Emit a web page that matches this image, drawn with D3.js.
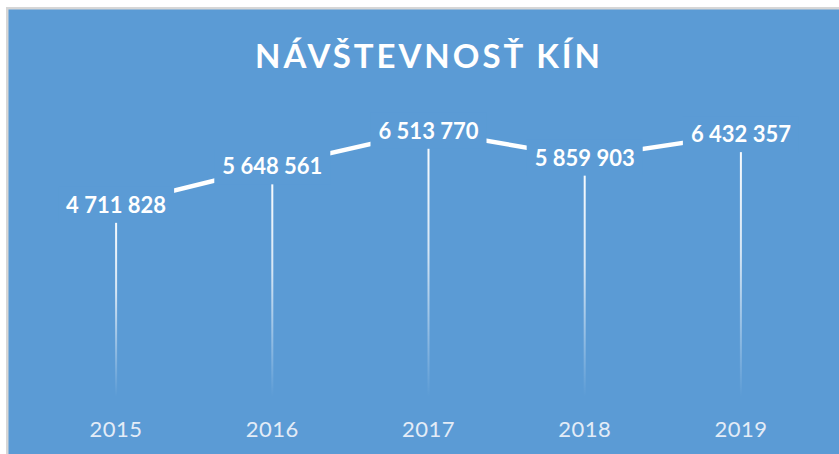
<!DOCTYPE html>
<html>
<head>
<meta charset="utf-8">
<script src="https://cdn.jsdelivr.net/npm/d3@7"></script>
<style>
  html, body { margin: 0; padding: 0; background: #ffffff; }
  svg { display: block; }
</style>
</head>
<body>
<svg id="chart" width="839" height="454"></svg>
<script>
const years = ["2015", "2016", "2017", "2018", "2019"];
const visitors = [4711828, 5648561, 6513770, 5859903, 6432357];
const labels = ["4 711 828", "5 648 561", "6 513 770", "5 859 903", "6 432 357"];
const title = "NÁVŠTEVNOSŤ KÍN";

const data = years.map((y, i) => ({ year: y, value: visitors[i], label: labels[i] }));

const W = 839, H = 454;
const BG = "#5b9bd5";
const svg = d3.select("#chart");

// frame
svg.append("rect").attr("x", 6).attr("y", 7).attr("width", W).attr("height", H).attr("fill", "#d6d6d6");
svg.append("rect").attr("x", 8.5).attr("y", 9.5).attr("width", W).attr("height", H).attr("fill", BG);

const x = d3.scalePoint().domain(years).range([38, 819]).padding(0.5);
const y = d3.scaleLinear().domain([0, 7000000]).range([398.5, 110.8]);

// gradient for drop lines
const defs = svg.append("defs");
const grad = defs.append("linearGradient").attr("id", "dropGrad")
  .attr("x1", 0).attr("y1", 0).attr("x2", 0).attr("y2", 1);
grad.append("stop").attr("offset", "0%").attr("stop-color", "#ffffff").attr("stop-opacity", 1);
grad.append("stop").attr("offset", "45%").attr("stop-color", "#ffffff").attr("stop-opacity", 0.75);
grad.append("stop").attr("offset", "100%").attr("stop-color", "#ffffff").attr("stop-opacity", 0);

// title
svg.append("text")
  .attr("x", 427.5).attr("y", 68)
  .attr("text-anchor", "middle")
  .attr("font-family", "Lato, 'Open Sans', sans-serif")
  .attr("font-size", 33)
  .attr("font-weight", 700)
  .attr("fill", "#ffffff")
  .attr("textLength", 345)
  .attr("lengthAdjust", "spacing")
  .text(title);

// drop lines
svg.append("g").selectAll("rect").data(data).join("rect")
  .attr("x", d => x(d.year) - 1)
  .attr("y", d => y(d.value))
  .attr("width", 2)
  .attr("height", d => y(0) - 2 - y(d.value))
  .attr("fill", "url(#dropGrad)");

// line
const line = d3.line().x(d => x(d.year)).y(d => y(d.value));
svg.append("path").datum(data)
  .attr("d", line)
  .attr("fill", "none")
  .attr("stroke", "#ffffff")
  .attr("stroke-width", 4.5);

// data labels with background
const lg = svg.append("g").selectAll("g").data(data).join("g")
  .attr("transform", d => `translate(${x(d.year)},${y(d.value)})`);
const lt = lg.append("text")
  .attr("text-anchor", "middle")
  .attr("y", 8)
  .attr("font-family", "Lato, 'Open Sans', sans-serif")
  .attr("font-size", 22)
  .attr("font-weight", 700)
  .attr("fill", "#ffffff")
  .text(d => d.label);
lt.each(function() {
  const w = this.getComputedTextLength();
  d3.select(this.parentNode).insert("rect", "text")
    .attr("x", -w / 2 - 8).attr("y", -18)
    .attr("width", w + 16).attr("height", 36)
    .attr("fill", BG);
});

// category axis labels
svg.append("g").selectAll("text").data(years).join("text")
  .attr("x", d => x(d))
  .attr("y", 437)
  .attr("text-anchor", "middle")
  .attr("font-family", "Lato, 'Open Sans', sans-serif")
  .attr("font-size", 22)
  .attr("fill", "#e3ecf7")
  .attr("letter-spacing", 0.5)
  .text(d => d);
</script>
</body>
</html>
